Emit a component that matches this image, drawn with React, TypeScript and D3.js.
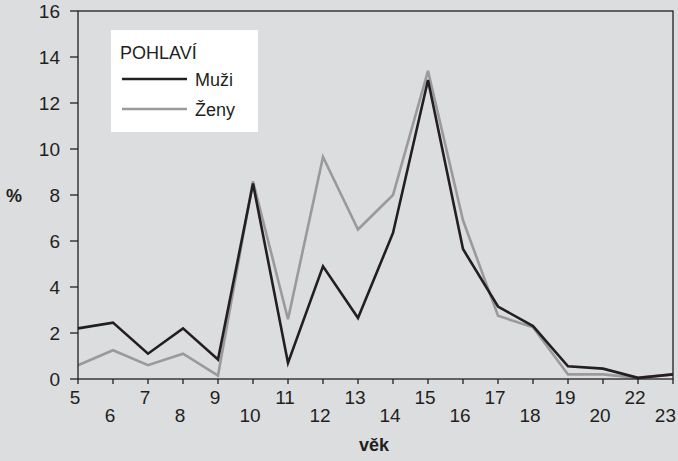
import React from "react";
import * as d3 from "d3";

const ages = ["5","6","7","8","9","10","11","12","13","14","15","16","17","18","19","20","22","23"];
const muzi = [2.2,2.45,1.1,2.2,0.85,8.5,0.7,4.9,2.65,6.35,13.0,5.65,3.15,2.3,0.55,0.45,0.05,0.2];
const zeny = [0.6,1.25,0.6,1.1,0.15,8.6,2.6,9.65,6.5,8.0,13.4,6.9,2.75,2.25,0.2,0.2,0.05,0.2];
const yTicks = [0,2,4,6,8,10,12,14,16];

const W = 678, H = 461;
const L = 78, R = 673, T = 11, B = 379;
const FONT = "'Liberation Sans', Arial, Helvetica, sans-serif";

export default function App() {
  const x = d3.scalePoint<string>().domain(ages).range([L, R]);
  const y = d3.scaleLinear().domain([0, 16]).range([B, T]);
  const line = d3.line<number>().x((_, i) => x(ages[i])!).y(d => y(d));
  return (
    <svg width={W} height={H} style={{ position: "absolute", left: 0, top: 0, background: "#dcdddf" }} fontFamily={FONT}>
      <rect x={0} y={0} width={W} height={H} fill="#dcdddf" />
      <path d={line(zeny)!} fill="none" stroke="#9a9a9a" strokeWidth={2.6} strokeLinejoin="miter" />
      <path d={line(muzi)!} fill="none" stroke="#231f20" strokeWidth={2.6} strokeLinejoin="miter" />
      <rect x={L} y={T} width={R - L} height={B - T} fill="none" stroke="#231f20" strokeWidth={1.3} />
      {yTicks.map(t => (
        <g key={t}>
          <line x1={L - 8} x2={L} y1={y(t)} y2={y(t)} stroke="#231f20" strokeWidth={1.3} />
          <text x={L - 18} y={y(t) + 7} textAnchor="end" fontSize={19} fill="#231f20">{t}</text>
        </g>
      ))}
      {ages.map((a, i) => {
        const last = i === ages.length - 1;
        return (
          <g key={a}>
            <line x1={x(a)} x2={x(a)} y1={B} y2={B + 5} stroke="#231f20" strokeWidth={1.3} />
            <text x={last ? 676 : x(a)! - 3} y={i % 2 === 0 ? B + 25 : B + 43} textAnchor={last ? "end" : "middle"} fontSize={19} fill="#231f20">{a}</text>
          </g>
        );
      })}
      <text x={14} y={202} textAnchor="middle" fontSize={18} fontWeight="bold" fill="#231f20">%</text>
      <text x={374} y={451} textAnchor="middle" fontSize={18} fontWeight="bold" fill="#231f20">věk</text>
      <rect x={111} y={30} width={147} height={102} fill="#ffffff" />
      <text x={120} y={59} fontSize={18} fill="#231f20">POHLAVÍ</text>
      <line x1={122} x2={187} y1={79} y2={79} stroke="#231f20" strokeWidth={2.6} />
      <text x={195} y={86} fontSize={18} fill="#231f20">Muži</text>
      <line x1={122} x2={187} y1={109} y2={109} stroke="#9a9a9a" strokeWidth={2.6} />
      <text x={195} y={116} fontSize={18} fill="#231f20">Ženy</text>
    </svg>
  );
}
